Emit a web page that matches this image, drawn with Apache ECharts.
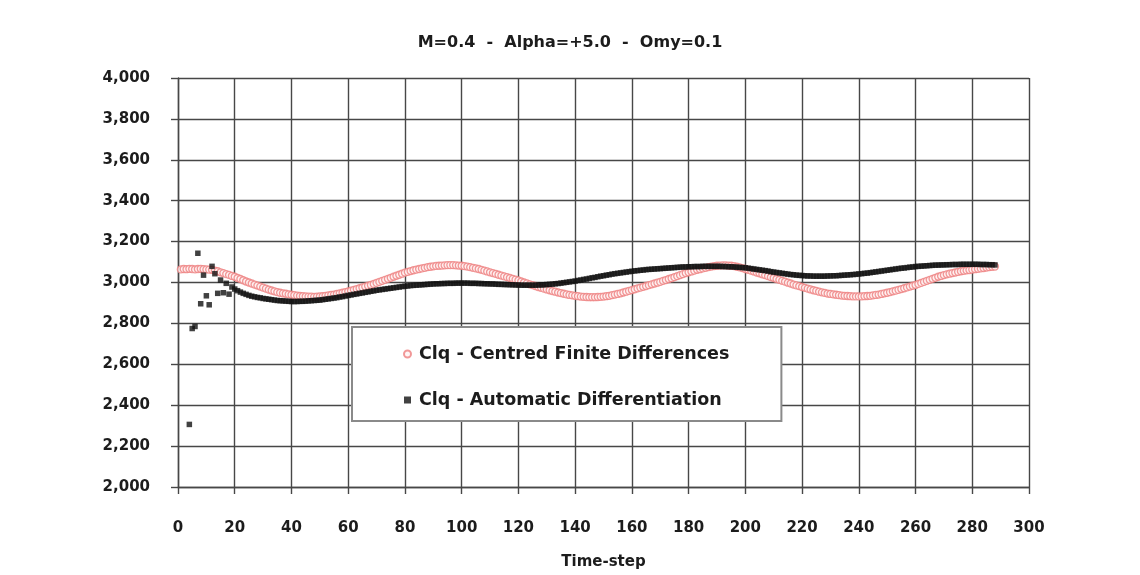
<!DOCTYPE html>
<html>
<head>
<meta charset="utf-8">
<script src="https://cdn.jsdelivr.net/npm/echarts@6/dist/echarts.min.js"></script>
<style>
  html, body { margin: 0; padding: 0; background: #ffffff; }
  #chart { width: 1140px; height: 575px; }
</style>
</head>
<body>
<div id="chart"></div>
<script>
// Lift coefficient history, one value per time-step (first value = step 1)
const chartTitle = 'M=0.4  -  Alpha=+5.0  -  Omy=0.1';
const xAxisName = 'Time-step';
const seriesNames = ['Clq - Centred Finite Differences', 'Clq - Automatic Differentiation'];
const firstStep = 1;

const cfdValues = [
  3064,3066,3065,3067,3066,3064,3066,3067,3065,3064,
  3063,3062,3058,3055,3050,3046,3041,3037,3032,3028,
  3022,3017,3011,3005,3000,2995,2990,2985,2980,2975,
  2970,2965,2961,2957,2953,2950,2947,2945,2942,2940,
  2938,2936,2934,2933,2932,2931,2931,2930,2931,2932,
  2933,2935,2937,2939,2941,2944,2947,2950,2953,2956,
  2960,2964,2968,2972,2976,2980,2984,2988,2993,2998,
  3003,3008,3013,3018,3023,3028,3033,3038,3043,3048,
  3052,3056,3060,3063,3066,3069,3072,3075,3077,3079,
  3081,3082,3083,3084,3085,3085,3085,3084,3083,3082,
  3080,3078,3075,3072,3069,3066,3062,3058,3054,3050,
  3046,3042,3038,3034,3030,3026,3022,3018,3014,3010,
  3005,3000,2996,2991,2987,2983,2978,2974,2970,2966,
  2962,2958,2955,2951,2948,2945,2942,2939,2937,2935,
  2933,2931,2930,2929,2928,2928,2928,2929,2930,2931,
  2933,2935,2938,2941,2944,2947,2951,2955,2959,2963,
  2967,2971,2975,2979,2983,2987,2991,2995,2999,3003,
  3008,3012,3017,3021,3026,3031,3036,3041,3046,3050,
  3054,3058,3062,3065,3069,3072,3075,3078,3080,3082,
  3083,3084,3084,3083,3082,3080,3077,3074,3070,3066,
  3062,3058,3054,3049,3045,3040,3036,3031,3026,3022,
  3017,3013,3008,3004,2999,2995,2990,2986,2982,2978,
  2974,2970,2966,2962,2959,2955,2952,2949,2946,2944,
  2942,2940,2938,2936,2935,2934,2933,2932,2932,2932,
  2932,2933,2934,2935,2937,2939,2941,2944,2947,2950,
  2953,2957,2960,2964,2968,2972,2976,2980,2984,2988,
  2993,2998,3003,3008,3013,3018,3023,3028,3032,3036,
  3040,3043,3046,3049,3052,3055,3057,3059,3061,3063,
  3065,3067,3069,3071,3073,3075,3077,3078
];

const adValues = [
  null,null,null,2306,2775,2785,3143,2896,3036,2935,
  2891,3079,3043,2947,3012,2950,2996,2943,2978,2968,
  2960,2953,2947,2942,2937,2933,2930,2927,2925,2922,
  2920,2918,2916,2914,2912,2911,2910,2909,2908,2907,
  2907,2907,2908,2908,2909,2910,2911,2912,2913,2914,
  2916,2918,2920,2922,2924,2926,2929,2931,2934,2937,
  2939,2942,2944,2947,2949,2952,2954,2957,2959,2962,
  2964,2966,2968,2970,2972,2974,2976,2978,2980,2982,
  2983,2985,2986,2987,2988,2989,2990,2991,2992,2993,
  2994,2994,2995,2995,2996,2996,2996,2997,2997,2997,
  2997,2997,2996,2996,2996,2995,2995,2994,2994,2993,
  2993,2992,2991,2991,2990,2990,2989,2989,2988,2988,
  2987,2987,2987,2987,2987,2987,2988,2988,2989,2990,
  2991,2992,2994,2995,2997,2999,3001,3003,3005,3007,
  3010,3012,3015,3017,3020,3023,3025,3028,3031,3033,
  3036,3038,3041,3043,3045,3047,3049,3051,3053,3055,
  3057,3058,3060,3061,3063,3064,3065,3066,3067,3068,
  3069,3070,3071,3072,3073,3074,3075,3076,3076,3077,
  3077,3078,3078,3078,3079,3079,3079,3079,3079,3079,
  3079,3078,3078,3077,3077,3076,3075,3074,3073,3072,
  3070,3068,3066,3064,3062,3060,3058,3056,3053,3051,
  3049,3047,3045,3043,3041,3039,3038,3036,3035,3034,
  3033,3032,3032,3031,3031,3031,3031,3031,3032,3032,
  3033,3033,3034,3035,3036,3037,3038,3039,3040,3042,
  3043,3045,3046,3048,3050,3052,3054,3056,3058,3060,
  3062,3064,3066,3068,3070,3071,3073,3075,3076,3078,
  3079,3080,3081,3082,3083,3084,3085,3085,3086,3086,
  3087,3087,3088,3088,3088,3089,3089,3089,3089,3089,
  3089,3089,3088,3088,3088,3087,3087,3086
];

function toPoints(values) {
  const pts = [];
  values.forEach((v, i) => { if (v != null) pts.push([firstStep + i, v]); });
  return pts;
}

const FONT = 'DejaVu Sans';
const TEXT = '#1c1c1c';
const GRID = '#474747';

const chart = echarts.init(document.getElementById('chart'), null, { renderer: 'canvas' });

chart.setOption({
  backgroundColor: '#ffffff',
  animation: false,
  title: {
    text: chartTitle,
    left: 'center',
    top: 30,
    textStyle: { fontFamily: FONT, fontWeight: 'bold', fontSize: 16, color: TEXT }
  },
  legend: {
    orient: 'vertical',
    left: 352,
    top: 327,
    padding: [18, 52, 12, 51],
    itemGap: 28,
    itemWidth: 7,
    itemHeight: 7,
    backgroundColor: '#ffffff',
    borderColor: '#8a8a8a',
    borderWidth: 2,
    textStyle: { fontFamily: FONT, fontWeight: 'bold', fontSize: 17.5, color: TEXT, padding: [0, 0, 0, 3] },
    data: [
      { name: seriesNames[0], icon: 'circle' },
      { name: seriesNames[1], icon: 'rect' }
    ]
  },
  grid: { left: 178, right: 111, top: 78, bottom: 81 },
  xAxis: {
    type: 'value',
    min: 0,
    max: 300,
    interval: 20,
    name: xAxisName,
    nameLocation: 'middle',
    nameGap: 68,
    nameTextStyle: { fontFamily: FONT, fontWeight: 'bold', fontSize: 15, color: TEXT },
    axisLine: { show: true, onZero: false, lineStyle: { color: GRID, width: 1.4 } },
    axisTick: { show: true, length: 7, lineStyle: { color: GRID, width: 1.4 } },
    axisLabel: { margin: 34, fontFamily: FONT, fontWeight: 'bold', fontSize: 15, color: TEXT },
    splitLine: { show: true, lineStyle: { color: GRID, width: 1.4 } }
  },
  yAxis: {
    type: 'value',
    min: 2000,
    max: 4000,
    interval: 200,
    axisLine: { show: true, onZero: false, lineStyle: { color: GRID, width: 1.4 } },
    axisTick: { show: true, length: 7, lineStyle: { color: GRID, width: 1.4 } },
    axisLabel: {
      margin: 28,
      fontFamily: FONT, fontWeight: 'bold', fontSize: 15, color: TEXT,
      formatter: v => v.toLocaleString('en-US')
    },
    splitLine: { show: true, lineStyle: { color: GRID, width: 1.4 } }
  },
  series: [
    {
      name: seriesNames[0],
      type: 'scatter',
      symbol: 'circle',
      symbolSize: 7,
      itemStyle: { color: '#fff2f2', borderColor: '#ee7f7f', borderWidth: 1.3 },
      data: toPoints(cfdValues)
    },
    {
      name: seriesNames[1],
      type: 'scatter',
      symbol: 'rect',
      symbolSize: 5.5,
      itemStyle: { color: '#111111' },
      data: toPoints(adValues)
    }
  ]
});
</script>
</body>
</html>
